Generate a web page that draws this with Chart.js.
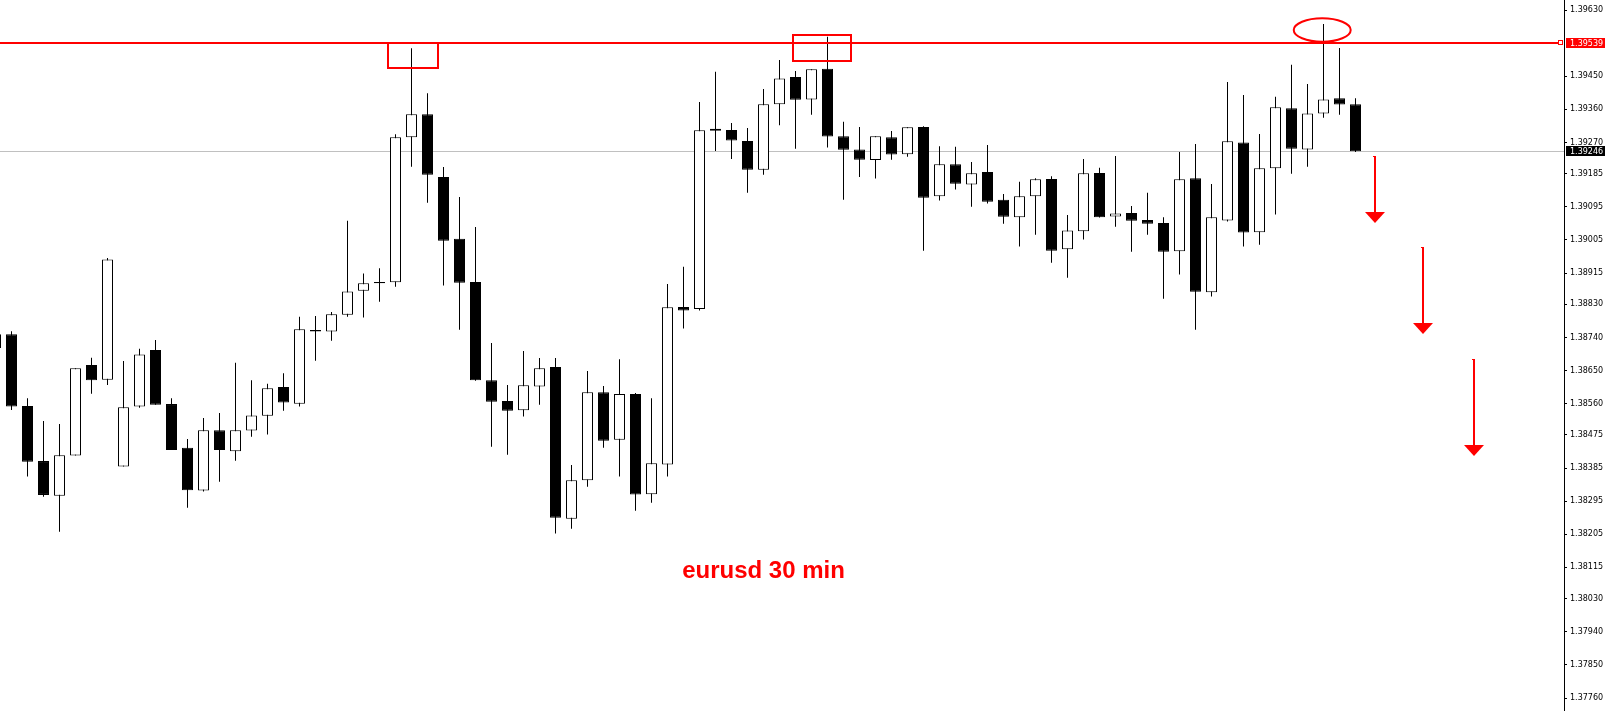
<!DOCTYPE html>
<html>
<head>
<meta charset="utf-8">
<title>eurusd 30 min</title>
<script src="https://cdn.jsdelivr.net/npm/chart.js@4.4.1/dist/chart.umd.min.js"></script>
<style>
  html, body { margin: 0; padding: 0; background: #ffffff; }
  #wrap { position: relative; width: 1605px; height: 711px; }
</style>
</head>
<body>
<div id="wrap"><canvas id="chart"></canvas></div>
<script>
// EURUSD, 30-minute candles (first one is cut by the left edge)
const openPrices = [
  1.38749, 1.38749, 1.38554, 1.38404, 1.38310, 1.38419, 1.38665, 1.38625, 1.38389, 1.38552,
  1.38706, 1.38559, 1.38440, 1.38324, 1.38488, 1.38431, 1.38487, 1.38527, 1.38605, 1.38560,
  1.38760, 1.38756, 1.38802, 1.38867, 1.38891, 1.38890, 1.39284, 1.39347, 1.39176, 1.39008,
  1.38891, 1.38624, 1.38567, 1.38542, 1.38607, 1.38660, 1.38247, 1.38352, 1.38591, 1.38462,
  1.38586, 1.38314, 1.38395, 1.38823, 1.38817, 1.39307, 1.39304, 1.39274, 1.39196, 1.39374,
  1.39448, 1.39387, 1.39470, 1.39287, 1.39251, 1.39222, 1.39284, 1.39238, 1.39312, 1.39124,
  1.39211, 1.39156, 1.39190, 1.39114, 1.39067, 1.39124, 1.39171, 1.38980, 1.39029, 1.39187,
  1.39069, 1.39078, 1.39059, 1.39051, 1.38974, 1.39173, 1.38863, 1.39058, 1.39270, 1.39026,
  1.39200, 1.39363, 1.39251, 1.39349, 1.39390, 1.39374
];
const highPrices = [
  1.38749, 1.38757, 1.38575, 1.38513, 1.38505, 1.38656, 1.38685, 1.38956, 1.38676, 1.38709,
  1.38733, 1.38575, 1.38464, 1.38521, 1.38535, 1.38671, 1.38624, 1.38614, 1.38643, 1.38796,
  1.38798, 1.38809, 1.39057, 1.38914, 1.38928, 1.39292, 1.39526, 1.39404, 1.39203, 1.39122,
  1.39040, 1.38725, 1.38611, 1.38703, 1.38684, 1.38684, 1.38393, 1.38649, 1.38608, 1.38681,
  1.38589, 1.38575, 1.38885, 1.38932, 1.39380, 1.39462, 1.39323, 1.39309, 1.39415, 1.39494,
  1.39464, 1.39469, 1.39557, 1.39326, 1.39312, 1.39287, 1.39301, 1.39311, 1.39314, 1.39260,
  1.39258, 1.39217, 1.39263, 1.39130, 1.39163, 1.39173, 1.39178, 1.39073, 1.39225, 1.39201,
  1.39233, 1.39097, 1.39133, 1.39067, 1.39244, 1.39266, 1.39157, 1.39434, 1.39399, 1.39293,
  1.39394, 1.39481, 1.39429, 1.39592, 1.39527, 1.39390
];
const lowPrices = [
  1.38711, 1.38543, 1.38362, 1.38307, 1.38212, 1.38419, 1.38587, 1.38611, 1.38389, 1.38549,
  1.38557, 1.38434, 1.38277, 1.38321, 1.38348, 1.38405, 1.38470, 1.38476, 1.38541, 1.38552,
  1.38677, 1.38731, 1.38796, 1.38794, 1.38837, 1.38878, 1.39204, 1.39106, 1.38881, 1.38761,
  1.38622, 1.38443, 1.38421, 1.38525, 1.38557, 1.38207, 1.38220, 1.38334, 1.38440, 1.38362,
  1.38269, 1.38291, 1.38362, 1.38764, 1.38813, 1.39247, 1.39225, 1.39133, 1.39182, 1.39317,
  1.39253, 1.39345, 1.39256, 1.39114, 1.39176, 1.39172, 1.39223, 1.39231, 1.38976, 1.39112,
  1.39142, 1.39095, 1.39104, 1.39049, 1.38987, 1.39019, 1.38943, 1.38902, 1.39006, 1.39066,
  1.39041, 1.38973, 1.39019, 1.38845, 1.38911, 1.38761, 1.38851, 1.39055, 1.38987, 1.38992,
  1.39074, 1.39185, 1.39204, 1.39337, 1.39345, 1.39244
];
const closePrices = [
  1.38711, 1.38552, 1.38402, 1.38312, 1.38420, 1.38656, 1.38624, 1.38952, 1.38550, 1.38694,
  1.38557, 1.38434, 1.38325, 1.38488, 1.38434, 1.38488, 1.38528, 1.38602, 1.38563, 1.38762,
  1.38756, 1.38803, 1.38865, 1.38887, 1.38887, 1.39284, 1.39347, 1.39182, 1.39003, 1.38889,
  1.38624, 1.38565, 1.38541, 1.38610, 1.38656, 1.38250, 1.38352, 1.38591, 1.38459, 1.38586,
  1.38313, 1.38398, 1.38822, 1.38813, 1.39303, 1.39302, 1.39275, 1.39196, 1.39374, 1.39444,
  1.39386, 1.39469, 1.39286, 1.39250, 1.39223, 1.39287, 1.39237, 1.39311, 1.39120, 1.39211,
  1.39158, 1.39186, 1.39109, 1.39068, 1.39124, 1.39170, 1.38976, 1.39031, 1.39186, 1.39067,
  1.39077, 1.39057, 1.39049, 1.38973, 1.39170, 1.38864, 1.39067, 1.39273, 1.39025, 1.39200,
  1.39366, 1.39253, 1.39349, 1.39387, 1.39373, 1.39246
];
const barIndex = openPrices.map((_, k) => k - 1);

// price scale labels
const priceTicks = [
  1.39630, 1.39450, 1.39360, 1.39270, 1.39185, 1.39095, 1.39005, 1.38915, 1.38830, 1.38740,
  1.38650, 1.38560, 1.38475, 1.38385, 1.38295, 1.38205, 1.38115, 1.38030, 1.37940, 1.37850,
  1.37760
];
const priceMin = 1.377247;
const priceMax = 1.396572;
const barMin = -0.71875;
const barMax = 97.03125;

// levels and drawings
const resistanceLevel = 1.39539;
const bidLevel = 1.39246;
const boxLeft = [23.55, 48.86];
const boxRight = [26.675, 52.45];
const boxTop = [1.39539, 1.395613];
const boxBottom = [1.394724, 1.394906];
const ringCenter = [81.92, 1.395757];
const ringRadius = [1.78, 0.000318];
const arrowAt = [85.22, 88.22, 91.375];
const arrowFrom = [1.39233, 1.38986, 1.38681];
const arrowTo = [1.39051, 1.38749, 1.38418];
const captionText = 'eurusd 30 min';
const captionAt = [47, 1.38085];

const RED = '#ff0000';
const AXIS_FONT = '8px "DejaVu Sans", Verdana, sans-serif';

const isUp = k => closePrices[k] > openPrices[k];

const drawings = {
  id: 'drawings',
  beforeDatasetsDraw(chart) {
    const { ctx, chartArea, scales: { y } } = chart;
    const yb = Math.floor(y.getPixelForValue(bidLevel)) + 0.5;
    ctx.save();
    ctx.strokeStyle = '#c0c0c0';
    ctx.lineWidth = 1;
    ctx.beginPath();
    ctx.moveTo(chartArea.left, yb);
    ctx.lineTo(chartArea.right, yb);
    ctx.stroke();
    ctx.restore();
  },
  afterDatasetsDraw(chart) {
    const { ctx, chartArea, scales: { x, y } } = chart;
    ctx.save();
    // resistance line with end marker
    const yr = Math.round(y.getPixelForValue(resistanceLevel));
    ctx.fillStyle = RED;
    ctx.fillRect(chartArea.left, yr - 1, chartArea.right - chartArea.left - 6, 2);
    ctx.strokeStyle = RED;
    ctx.lineWidth = 1;
    ctx.fillStyle = '#ffffff';
    ctx.fillRect(chartArea.right - 6, yr - 2.5, 4, 4);
    ctx.strokeRect(chartArea.right - 5.5, yr - 2.5, 4, 4);

    // boxes around the tops
    ctx.lineWidth = 2;
    for (let k = 0; k < boxLeft.length; k++) {
      const l = Math.round(x.getPixelForValue(boxLeft[k]));
      const r = Math.round(x.getPixelForValue(boxRight[k]));
      const t = Math.round(y.getPixelForValue(boxTop[k]));
      const b = Math.round(y.getPixelForValue(boxBottom[k]));
      ctx.strokeRect(l, t, r - l, b - t);
    }

    // ring around the last spike
    const cx = x.getPixelForValue(ringCenter[0]);
    const cy = y.getPixelForValue(ringCenter[1]);
    const rx = x.getPixelForValue(ringCenter[0] + ringRadius[0]) - cx;
    const ry = cy - y.getPixelForValue(ringCenter[1] + ringRadius[1]);
    ctx.beginPath();
    ctx.ellipse(cx, cy, rx, ry, 0, 0, Math.PI * 2);
    ctx.stroke();

    // downward arrows
    ctx.fillStyle = RED;
    for (let k = 0; k < arrowAt.length; k++) {
      const ax = Math.round(x.getPixelForValue(arrowAt[k]));
      const top = Math.round(y.getPixelForValue(arrowFrom[k]));
      const tip = Math.round(y.getPixelForValue(arrowTo[k]));
      const base = tip - 11;
      ctx.fillRect(ax - 1, top, 2, base - top + 1);
      ctx.fillRect(ax - 2, top, 1, 1);
      ctx.beginPath();
      ctx.moveTo(ax - 10, base);
      ctx.lineTo(ax + 10, base);
      ctx.lineTo(ax, tip);
      ctx.closePath();
      ctx.fill();
    }

    // caption
    ctx.font = 'bold 24px "Liberation Sans", Arial, sans-serif';
    ctx.textAlign = 'center';
    ctx.textBaseline = 'alphabetic';
    ctx.fillText(captionText, x.getPixelForValue(captionAt[0]), y.getPixelForValue(captionAt[1]));
    ctx.restore();
  },
  afterDraw(chart) {
    const { ctx, chartArea, scales: { y } } = chart;
    ctx.save();
    ctx.font = AXIS_FONT;
    ctx.textAlign = 'left';
    ctx.textBaseline = 'middle';
    const tags = [[resistanceLevel, RED], [bidLevel, '#000000']];
    for (const [level, colour] of tags) {
      const top = Math.floor(y.getPixelForValue(level)) - 5;
      ctx.fillStyle = colour;
      ctx.fillRect(chartArea.right + 2, top, chart.width - chartArea.right - 2, 10);
      ctx.fillStyle = '#ffffff';
      ctx.fillText(level.toFixed(5), chartArea.right + 6, top + 5.5);
    }
    ctx.restore();
  }
};

const bodyData = barIndex.map((xi, k) => ({ x: xi, y: [openPrices[k], closePrices[k]] }));
const wickData = barIndex.map((xi, k) => ({ x: xi, y: [lowPrices[k], highPrices[k]] }));

new Chart(document.getElementById('chart'), {
  type: 'bar',
  data: {
    datasets: [
      {
        label: 'body',
        data: bodyData,
        order: 1,
        grouped: false,
        barThickness: 11,
        inflateAmount: 0,
        borderWidth: 1,
        borderSkipped: false,
        borderColor: '#000000',
        backgroundColor: c => (isUp(c.dataIndex) ? '#ffffff' : '#000000')
      },
      {
        label: 'wick',
        data: wickData,
        order: 2,
        grouped: false,
        barThickness: 1,
        inflateAmount: 0,
        borderWidth: 0,
        backgroundColor: '#000000'
      }
    ]
  },
  options: {
    responsive: true,
    maintainAspectRatio: false,
    animation: false,
    events: [],
    layout: { padding: 0 },
    plugins: { legend: { display: false }, tooltip: { enabled: false } },
    scales: {
      x: {
        type: 'linear',
        display: false,
        offset: false,
        bounds: 'data',
        min: barMin,
        max: barMax
      },
      y: {
        type: 'linear',
        position: 'right',
        bounds: 'data',
        min: priceMin,
        max: priceMax,
        afterBuildTicks: s => { s.ticks = priceTicks.map(v => ({ value: v })); },
        afterFit: s => { s.width = 41; s.paddingTop = 0; s.paddingBottom = 0; },
        grid: { drawOnChartArea: false, drawTicks: true, tickLength: 3, tickColor: '#000000', color: '#000000' },
        border: { display: true, color: '#000000', width: 1 },
        ticks: {
          autoSkip: false,
          padding: 3,
          color: '#000000',
          font: { family: '"DejaVu Sans", Verdana, sans-serif', size: 8 },
          callback: v => Number(v).toFixed(5)
        }
      }
    }
  },
  plugins: [drawings]
});
</script>
</body>
</html>
